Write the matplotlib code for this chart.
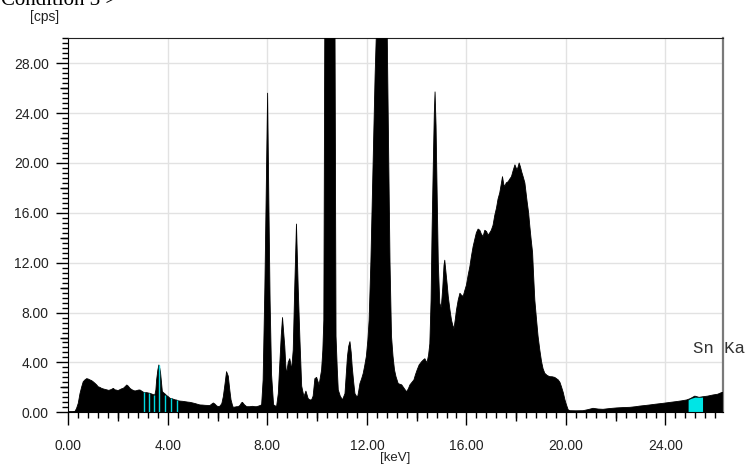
import matplotlib
matplotlib.use('Agg')
import matplotlib.pyplot as plt
from matplotlib.ticker import MultipleLocator, FormatStrFormatter, NullFormatter
import numpy as np

plt.rcParams['font.family'] = ['Liberation Sans', 'DejaVu Sans']

# spectrum, energy [keV] vs count rate [cps]
energy = [0.00, 0.20, 0.27, 0.33, 0.40, 0.47, 0.54, 0.60, 0.67, 0.74, 0.80, 0.87, 0.94, 1.00,
          1.07, 1.14, 1.20, 1.27, 1.34, 1.40, 1.47, 1.55, 1.62, 1.68, 1.75, 1.81, 1.88, 1.94,
          2.00, 2.08, 2.14, 2.21, 2.28, 2.35, 2.41, 2.48, 2.55, 2.62, 2.68, 2.75, 2.81, 2.88,
          2.95, 3.01, 3.08, 3.15, 3.21, 3.28, 3.35, 3.41, 3.48, 3.52, 3.55, 3.60, 3.64, 3.68,
          3.71, 3.75, 3.78, 3.84, 3.89, 3.95, 4.02, 4.09, 4.16, 4.22, 4.29, 4.36, 4.42, 4.49,
          4.60, 4.70, 4.80, 4.89, 5.00, 5.10, 5.20, 5.29, 5.40, 5.50, 5.60, 5.69, 5.76, 5.83,
          5.90, 5.96, 6.03, 6.10, 6.17, 6.23, 6.30, 6.36, 6.43, 6.49, 6.54, 6.60, 6.63, 6.70,
          6.77, 6.83, 6.90, 6.96, 7.00, 7.08, 7.17, 7.30, 7.40, 7.50, 7.57, 7.65, 7.72, 7.77,
          7.83, 7.90, 7.95, 8.01, 8.06, 8.11, 8.17, 8.25, 8.37, 8.44, 8.50, 8.56, 8.61, 8.66,
          8.70, 8.74, 8.77, 8.81, 8.84, 8.90, 8.94, 8.97, 9.04, 9.10, 9.17, 9.24, 9.31, 9.38,
          9.47, 9.55, 9.64, 9.71, 9.78, 9.84, 9.91, 9.98, 10.03, 10.08, 10.13, 10.18, 10.23,
          10.27, 10.31, 10.35, 10.45, 10.55, 10.62, 10.68, 10.72, 10.76, 10.81, 10.85, 10.93,
          11.02, 11.12, 11.17, 11.22, 11.27, 11.32, 11.37, 11.41, 11.47, 11.52, 11.58, 11.63,
          11.68, 11.72, 11.79, 11.85, 11.91, 11.98, 12.04, 12.09, 12.16, 12.25, 12.33, 12.39,
          12.50, 12.60, 12.70, 12.82, 12.88, 12.93, 12.99, 13.05, 13.11, 13.17, 13.26, 13.33,
          13.40, 13.47, 13.54, 13.60, 13.67, 13.73, 13.81, 13.89, 13.95, 14.02, 14.10, 14.20,
          14.27, 14.33, 14.38, 14.42, 14.48, 14.53, 14.58, 14.62, 14.67, 14.71, 14.74, 14.78,
          14.82, 14.87, 14.93, 14.99, 15.05, 15.10, 15.13, 15.18, 15.23, 15.27, 15.34, 15.40,
          15.45, 15.50, 15.55, 15.60, 15.67, 15.74, 15.80, 15.87, 15.94, 16.00, 16.07, 16.14,
          16.20, 16.27, 16.34, 16.40, 16.47, 16.54, 16.60, 16.67, 16.74, 16.81, 16.87, 16.94,
          17.00, 17.07, 17.14, 17.21, 17.27, 17.34, 17.40, 17.45, 17.50, 17.54, 17.60, 17.68,
          17.74, 17.81, 17.88, 17.95, 18.00, 18.04, 18.08, 18.12, 18.17, 18.22, 18.28, 18.35,
          18.44, 18.50, 18.55, 18.60, 18.66, 18.70, 18.75, 18.82, 18.88, 18.95, 19.02, 19.08,
          19.15, 19.25, 19.35, 19.45, 19.55, 19.62, 19.69, 19.76, 19.82, 19.89, 19.96, 20.02,
          20.09, 20.16, 20.40, 20.69, 20.90, 21.09, 21.30, 21.49, 21.75, 22.03, 22.30, 22.57,
          22.80, 22.97, 23.20, 23.37, 23.60, 23.90, 24.20, 24.44, 24.65, 24.85, 25.00, 25.18,
          25.35, 25.51, 25.70, 25.91, 26.10, 26.25, 26.30]
cps = [0.05, 0.05, 0.08, 0.30, 0.72, 1.50, 2.05, 2.45, 2.60, 2.70, 2.67, 2.60, 2.54, 2.45,
       2.33, 2.20, 2.05, 2.00, 1.92, 1.88, 1.84, 1.80, 1.76, 1.79, 1.85, 1.92, 1.80, 1.78,
       1.74, 1.82, 1.88, 1.92, 2.05, 2.19, 2.10, 1.92, 1.82, 1.75, 1.71, 1.74, 1.78, 1.79,
       1.70, 1.62, 1.57, 1.58, 1.55, 1.52, 1.47, 1.42, 1.39, 1.80, 2.60, 3.40, 3.80, 3.50,
       3.13, 2.30, 1.66, 1.55, 1.47, 1.35, 1.25, 1.12, 1.10, 1.05, 1.00, 0.98, 0.92, 0.90,
       0.88, 0.85, 0.82, 0.80, 0.75, 0.70, 0.64, 0.59, 0.58, 0.56, 0.55, 0.54, 0.65, 0.75,
       0.65, 0.52, 0.45, 0.50, 0.70, 1.25, 2.30, 3.26, 2.90, 1.80, 1.00, 0.55, 0.40, 0.42,
       0.45, 0.45, 0.55, 0.75, 0.80, 0.60, 0.45, 0.45, 0.48, 0.45, 0.45, 0.50, 0.55, 0.60,
       2.60, 10.0, 17.0, 25.6, 17.0, 9.0, 3.0, 0.60, 0.45, 1.50, 3.90, 6.20, 7.60, 6.30,
       5.30, 3.80, 3.00, 3.60, 4.00, 4.30, 3.90, 3.30, 5.00, 10.0, 15.1, 10.0, 5.80, 2.10,
       1.25, 1.70, 1.10, 0.99, 1.00, 1.30, 2.70, 2.80, 2.50, 2.20, 2.80, 3.40, 5.00,
       7.40, 32.0, 60.0, 110.0, 130.0, 110.0, 60.0, 30.0, 6.10, 3.50, 1.80, 1.30,
       1.00, 1.50, 3.00, 4.50, 5.30, 5.67, 4.80, 3.66, 2.40, 1.50, 1.30, 1.25,
       1.80, 2.30, 2.70, 3.10, 3.70, 4.50, 5.80, 7.40, 12.0, 20.0, 27.0, 31.0,
       45.0, 50.0, 45.0, 30.0, 20.0, 12.0, 6.10, 4.50, 3.40, 2.86, 2.30, 2.25,
       2.20, 2.00, 1.80, 1.65, 1.90, 2.20, 2.40, 2.60, 3.00, 3.40, 3.80, 4.06,
       4.20, 4.30, 4.10, 4.00, 4.60, 5.50, 9.00, 14.6, 20.0, 24.0, 25.7, 23.0,
       18.0, 12.0, 8.75, 8.40, 10.0, 11.8, 12.2, 11.2, 10.2, 9.30, 8.20, 7.40,
       7.00, 6.70, 7.40, 8.20, 9.00, 9.55, 9.40, 9.30, 9.80, 10.2, 11.0, 11.7,
       12.5, 13.3, 13.9, 14.4, 14.7, 14.6, 14.3, 14.1, 14.6, 14.5, 14.2, 14.4,
       14.6, 15.0, 15.8, 16.4, 17.1, 17.6, 18.3, 18.9, 18.3, 18.1, 18.4, 18.5,
       18.7, 18.9, 19.4, 19.85, 19.6, 19.45, 19.7, 20.0, 19.7, 19.3, 18.9, 18.4,
       16.9, 16.0, 14.9, 13.9, 12.8, 11.0, 9.00, 7.40, 6.10, 5.00, 4.06, 3.50,
       3.13, 2.95, 2.86, 2.85, 2.80, 2.70, 2.60, 2.40, 2.05, 1.60, 1.00, 0.60,
       0.20, 0.13, 0.12, 0.13, 0.22, 0.32, 0.26, 0.24, 0.30, 0.35, 0.38, 0.40,
       0.45, 0.50, 0.55, 0.59, 0.65, 0.72, 0.80, 0.86, 0.92, 0.99, 1.10, 1.30,
       1.20, 1.25, 1.30, 1.39, 1.45, 1.58, 1.60]

# highlighted channels (cyan) and the Sn Ka window
mark_e = [3.05, 3.25, 3.46, 3.66, 3.90, 4.14, 4.38]
mark_cps = [1.62, 1.52, 1.40, 3.80, 1.40, 1.12, 0.96]
roi_e = [24.91, 25.00, 25.18, 25.35, 25.49]
roi_cps = [1.00, 1.10, 1.22, 1.20, 1.22]
roi_label = 'Sn Ka'

fig = plt.figure(figsize=(7.46, 4.66), dpi=100)
ax = fig.add_axes([68.3 / 746, 1 - 412.3 / 466, (722.7 - 68.3) / 746, (412.3 - 38.3) / 466])

ax.fill_between(energy, 0, cps, color='black', lw=0.6, zorder=3)
ax.fill_between(roi_e, 0, roi_cps, color='#00e5e5', lw=0, zorder=4)
ax.vlines(mark_e, 0, mark_cps, color='#00d8e0', lw=1.0, zorder=4)
ax.text(25.09, 5.1, roi_label, family='Liberation Mono', fontsize=12.5,
        va='center', ha='left', color='#333333', clip_on=False)

ax.set_xlim(0, 26.3)
ax.set_ylim(0, 30)

ax.xaxis.set_major_locator(MultipleLocator(4))
ax.xaxis.set_minor_locator(MultipleLocator(0.4))
ax.yaxis.set_major_locator(MultipleLocator(4))
ax.yaxis.set_minor_locator(MultipleLocator(0.4))
ax.xaxis.set_major_formatter(FormatStrFormatter('%.2f'))
ax.yaxis.set_major_formatter(FormatStrFormatter('%.2f'))

ax.tick_params(which='major', direction='out', length=9, width=1, labelsize=10,
               labelcolor='#222222')
ax.tick_params(axis='x', which='major', pad=10)
ax.tick_params(axis='y', which='major', length=8.6, pad=5.5)
ax.tick_params(which='minor', direction='out', length=4.3, width=1)
ax.tick_params(top=False, right=False, which='both')

# medium ticks every 2 keV / 2 cps
secx = ax.secondary_xaxis('bottom')
secx.set_xticks(np.arange(2, 26, 4))
secx.xaxis.set_major_formatter(NullFormatter())
secx.tick_params(length=6.5, width=1, direction='out')
secx.spines['bottom'].set_visible(False)
secy = ax.secondary_yaxis('left')
secy.set_yticks(np.arange(2, 30, 4))
secy.yaxis.set_major_formatter(NullFormatter())
secy.tick_params(length=6, width=1, direction='out')
secy.spines['left'].set_visible(False)

ax.grid(True, which='major', color='#e2e2e2', lw=1, zorder=0)
ax.set_axisbelow(True)

ax.spines['top'].set_color('#222222')
ax.spines['right'].set_color('#7a7a7a')
ax.spines['right'].set_linewidth(1.6)
for s in ('left', 'bottom'):
    ax.spines[s].set_color('black')
ax.spines['bottom'].set_zorder(5)

fig.text(395 / 746, 1 - 458 / 466, '[keV]', fontsize=9.5, ha='center', va='center', color='#222222')
fig.text(45 / 746, 1 - 17 / 466, '[cps]', fontsize=10, ha='center', va='center', color='#222222')
fig.text(0.001, 1 - 5 / 466, 'Condition 3 >', family='Liberation Serif', fontsize=15,
         ha='left', va='baseline', color='black')

fig.savefig('out.png', dpi=100)
